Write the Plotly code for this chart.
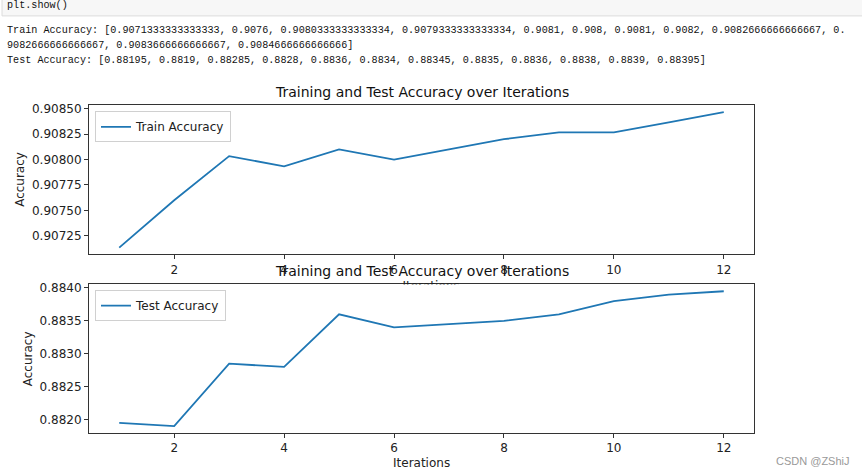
import plotly.graph_objects as go

# ---- data ----
iterations = list(range(1, 13))
train_acc = [0.9071333333333333, 0.9076, 0.9080333333333334, 0.9079333333333334, 0.9081, 0.908,
             0.9081, 0.9082, 0.9082666666666667, 0.9082666666666667, 0.9083666666666667, 0.9084666666666666]
test_acc = [0.88195, 0.8819, 0.88285, 0.8828, 0.8836, 0.8834, 0.88345, 0.8835, 0.8836, 0.8838, 0.8839, 0.88395]
x_ticks = [2, 4, 6, 8, 10, 12]
train_ticks = [0.90725, 0.90750, 0.90775, 0.90800, 0.90825, 0.90850]
test_ticks = [0.8820, 0.8825, 0.8830, 0.8835, 0.8840]

train_text = ("Train Accuracy: [" + ", ".join(str(v) for v in train_acc) + "]")
test_text = ("Test Accuracy: [" + ", ".join(str(v) for v in test_acc) + "]")
split_at = train_text.index("0.9082666666666667, 0.") + len("0.9082666666666667, 0.")
train_line1, train_line2 = train_text[:split_at], train_text[split_at:]

W, H = 862, 472
def px(x): return x / W
def py(y): return 1 - y / H

def padded(vals, frac=0.05):
    lo, hi = min(vals), max(vals)
    d = (hi - lo) * frac
    return [lo - d, hi + d]

BLUE = "#1f77b4"
AX = "#333333"
TICKFONT = dict(family="DejaVu Sans", size=12, color="#222222")

fig = go.Figure()
fig.add_trace(go.Scatter(x=iterations, y=train_acc, mode="lines", name="Train Accuracy",
                         line=dict(color=BLUE, width=1.8), xaxis="x", yaxis="y", legend="legend"))
fig.add_trace(go.Scatter(x=iterations, y=test_acc, mode="lines", name="Test Accuracy",
                         line=dict(color=BLUE, width=1.8), xaxis="x2", yaxis="y2", legend="legend2"))
# upper x-axis label, partly hidden under the lower axes (clipped by a helper subplot)
fig.add_trace(go.Scatter(x=[0.5], y=[0], mode="text", text=["Iterations"], textposition="middle center",
                         textfont=dict(family="DejaVu Sans", size=12, color="#222222"),
                         cliponaxis=True, showlegend=False, hoverinfo="skip",
                         xaxis="x3", yaxis="y3"))

common_x = dict(range=padded(iterations), tickvals=x_ticks, ticks="outside", ticklen=4, tickwidth=1,
                tickcolor=AX, showline=True, linecolor=AX, linewidth=1, mirror=True,
                showgrid=False, zeroline=False, tickfont=TICKFONT, domain=[px(89), px(754)])
common_y = dict(ticks="outside", ticklen=4, tickwidth=1, tickcolor=AX, showline=True, linecolor=AX,
                linewidth=1, mirror=True, showgrid=False, zeroline=False, tickfont=TICKFONT)

fig.update_layout(
    width=W, height=H, margin=dict(l=0, r=0, t=0, b=0),
    paper_bgcolor="white", plot_bgcolor="white",
    xaxis=dict(**common_x, anchor="y"),
    yaxis=dict(**common_y, anchor="x", domain=[py(253), py(103)], range=padded(train_acc),
               tickvals=train_ticks, ticktext=[f"{v:.5f}" for v in train_ticks]),
    xaxis2=dict(**common_x, anchor="y2"),
    yaxis2=dict(**common_y, anchor="x2", domain=[py(432.7), py(283.3)], range=padded(test_acc),
                tickvals=test_ticks, ticktext=[f"{v:.4f}" for v in test_ticks]),
    xaxis3=dict(domain=[0, 1], range=[0, 1], visible=False, anchor="y3", fixedrange=True),
    yaxis3=dict(domain=[py(283.3), py(262)], range=[0.1, 1.1], visible=False, anchor="x3", fixedrange=True),
    legend=dict(x=px(95), y=py(109), xanchor="left", yanchor="top", bgcolor="rgba(255,255,255,0.8)",
                bordercolor="#d0d0d0", borderwidth=1, font=dict(family="DejaVu Sans", size=12, color="#222222")),
    legend2=dict(x=px(95), y=py(289), xanchor="left", yanchor="top", bgcolor="rgba(255,255,255,0.8)",
                 bordercolor="#d0d0d0", borderwidth=1, font=dict(family="DejaVu Sans", size=12, color="#222222")),
    showlegend=True,
)

# notebook cell input box
fig.add_shape(type="rect", xref="paper", yref="paper", x0=px(2), x1=px(870), y0=py(13), y1=py(-5),
              fillcolor="#f7f7f7", line=dict(color="#dcdcdc", width=1), layer="below")

mono = dict(family="Liberation Mono", size=10.15, color="#111111")
def note(text, x, y, font, xanchor="left", yanchor="middle", angle=0):
    fig.add_annotation(text=text, x=px(x), y=py(y), xref="paper", yref="paper", showarrow=False,
                       xanchor=xanchor, yanchor=yanchor, font=font, textangle=angle)

note("plt.show()", 5, 3, mono)
note(train_line1, 5, 28, mono)
note(train_line2, 5, 43, mono)
note(test_text, 5, 58, mono)

title_font = dict(family="DejaVu Sans", size=14, color="#111111")
label_font = dict(family="DejaVu Sans", size=12, color="#222222")
note("Training and Test Accuracy over Iterations", 421.5, 90, title_font, xanchor="center")
note("Training and Test Accuracy over Iterations", 421.5, 270, title_font, xanchor="center")
note("Accuracy", 20, 178, label_font, xanchor="center", angle=-90)
note("Accuracy", 27.5, 358, label_font, xanchor="center", angle=-90)
note("Iterations", 421.5, 463, label_font, xanchor="center")
note("CSDN @ZShiJ", 813, 461, dict(family="Liberation Sans", size=11, color="#999999"), xanchor="center")

fig.write_html("out.html", config={"displayModeBar": False},
               post_script="document.body.style.margin='0';document.body.style.overflow='hidden';")
